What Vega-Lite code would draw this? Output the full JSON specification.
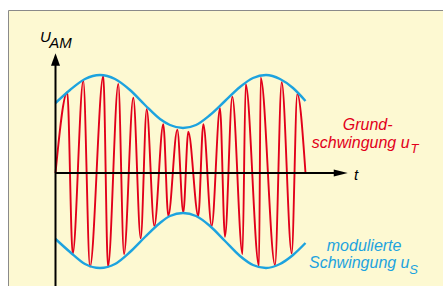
{
  "$schema": "https://vega.github.io/schema/vega-lite/v6.json",
  "width": 435,
  "height": 276,
  "autosize": {"type": "none"},
  "padding": {"left": 8, "top": 10, "right": 0, "bottom": 0},
  "background": "white",
  "config": {"view": {"fill": "#FDF9D2", "stroke": "#8a8a8a", "strokeWidth": 1}},
  "datasets": {
    "carrier": [
      {"t": 0, "U": 0},
      {"t": 0.472, "U": 0.807},
      {"t": 0.688, "U": -0.81},
      {"t": 1.112, "U": 0.923},
      {"t": 1.38, "U": -0.937},
      {"t": 1.912, "U": 0.973},
      {"t": 2.1, "U": -0.937},
      {"t": 2.512, "U": 0.89},
      {"t": 2.74, "U": -0.81},
      {"t": 3.112, "U": 0.753},
      {"t": 3.408, "U": -0.653},
      {"t": 3.648, "U": 0.637},
      {"t": 3.952, "U": -0.53},
      {"t": 4.312, "U": 0.487},
      {"t": 4.512, "U": -0.43},
      {"t": 4.872, "U": 0.433},
      {"t": 5.112, "U": -0.397},
      {"t": 5.312, "U": 0.413},
      {"t": 5.712, "U": -0.43},
      {"t": 5.912, "U": 0.487},
      {"t": 6.248, "U": -0.53},
      {"t": 6.58, "U": 0.647},
      {"t": 6.78, "U": -0.637},
      {"t": 7.072, "U": 0.763},
      {"t": 7.48, "U": -0.81},
      {"t": 7.608, "U": 0.887},
      {"t": 8.14, "U": -0.93},
      {"t": 8.208, "U": 0.953},
      {"t": 8.78, "U": -0.92},
      {"t": 9.048, "U": 0.907},
      {"t": 9.448, "U": -0.803},
      {"t": 9.672, "U": 0.79},
      {"t": 10.0, "U": 0}
    ],
    "envelope": [
      {"side": "upper", "t": 0, "U": 0.70},
      {"side": "upper", "t": 0.58, "U": 0.83},
      {"side": "upper", "t": 1.18, "U": 0.94},
      {"side": "upper", "t": 1.78, "U": 0.98},
      {"side": "upper", "t": 2.38, "U": 0.94},
      {"side": "upper", "t": 2.98, "U": 0.83},
      {"side": "upper", "t": 3.58, "U": 0.68},
      {"side": "upper", "t": 4.18, "U": 0.54},
      {"side": "upper", "t": 4.58, "U": 0.48},
      {"side": "upper", "t": 5.1, "U": 0.45},
      {"side": "upper", "t": 5.62, "U": 0.48},
      {"side": "upper", "t": 6.18, "U": 0.58},
      {"side": "upper", "t": 6.78, "U": 0.72},
      {"side": "upper", "t": 7.38, "U": 0.86},
      {"side": "upper", "t": 7.9, "U": 0.95},
      {"side": "upper", "t": 8.42, "U": 0.98},
      {"side": "upper", "t": 8.98, "U": 0.94},
      {"side": "upper", "t": 9.5, "U": 0.85},
      {"side": "upper", "t": 10.0, "U": 0.72},
      {"side": "lower", "t": 0, "U": -0.66},
      {"side": "lower", "t": 0.58, "U": -0.79},
      {"side": "lower", "t": 1.18, "U": -0.91},
      {"side": "lower", "t": 1.78, "U": -0.95},
      {"side": "lower", "t": 2.38, "U": -0.91},
      {"side": "lower", "t": 2.98, "U": -0.79},
      {"side": "lower", "t": 3.58, "U": -0.64},
      {"side": "lower", "t": 4.18, "U": -0.50},
      {"side": "lower", "t": 4.58, "U": -0.43},
      {"side": "lower", "t": 5.1, "U": -0.40},
      {"side": "lower", "t": 5.62, "U": -0.43},
      {"side": "lower", "t": 6.18, "U": -0.53},
      {"side": "lower", "t": 6.78, "U": -0.68},
      {"side": "lower", "t": 7.38, "U": -0.83},
      {"side": "lower", "t": 7.9, "U": -0.92},
      {"side": "lower", "t": 8.42, "U": -0.95},
      {"side": "lower", "t": 8.98, "U": -0.91},
      {"side": "lower", "t": 9.5, "U": -0.82},
      {"side": "lower", "t": 10.0, "U": -0.70}
    ]
  },
  "encoding": {
    "x": {"field": "t", "type": "quantitative", "scale": {"domain": [-1.9, 15.5], "nice": false, "zero": false}, "axis": null},
    "y": {"field": "U", "type": "quantitative", "scale": {"domain": [-1.13, 1.63], "nice": false, "zero": false}, "axis": null}
  },
  "layer": [
    {
      "data": {"name": "carrier"},
      "mark": {"type": "line", "interpolate": "monotone", "color": "#E2001A", "strokeWidth": 1.9},
      "encoding": {}
    },
    {
      "data": {"name": "envelope"},
      "mark": {"type": "line", "interpolate": "monotone", "color": "#1DA3DF", "strokeWidth": 2.4},
      "encoding": {"detail": {"field": "side"}}
    },
    {
      "data": {"values": [{"t": 0, "U": -1.2, "U2": 1.09}]},
      "mark": {"type": "rule", "color": "black", "strokeWidth": 2},
      "encoding": {"y2": {"field": "U2"}}
    },
    {
      "data": {"values": [{"t": 0, "t2": 11.18, "U": 0}]},
      "mark": {"type": "rule", "color": "black", "strokeWidth": 2},
      "encoding": {"x2": {"field": "t2"}}
    },
    {
      "data": {"values": [{"t": 0, "U": 1.197}]},
      "mark": {"type": "point", "filled": true, "color": "black", "opacity": 1, "size": 196, "shape": "M0,0 L0.643,1.77 L-0.643,1.77 Z"},
      "encoding": {}
    },
    {
      "data": {"values": [{"t": 11.69, "U": 0}]},
      "mark": {"type": "point", "filled": true, "color": "black", "opacity": 1, "size": 196, "shape": "M0,0 L-2,-0.5 L-2,0.5 Z"},
      "encoding": {}
    },
    {
      "data": {"values": [{"t": -0.62, "U": 1.313, "label": "U"}, {"t": -0.248, "U": 1.247, "label": "AM"}, {"t": 11.94, "U": -0.07, "label": "t"}]},
      "mark": {"type": "text", "align": "left", "baseline": "alphabetic", "font": "Liberation Sans", "fontStyle": "italic", "fontSize": 15, "color": "black"},
      "encoding": {"text": {"field": "label"}}
    },
    {
      "data": {"values": [{"t": 11.49, "U": 0.43, "label": "Grund-"}, {"t": 10.25, "U": 0.247, "label": "schwingung u"}]},
      "mark": {"type": "text", "align": "left", "baseline": "alphabetic", "font": "Liberation Sans", "fontStyle": "italic", "fontSize": 16, "color": "#E2001A"},
      "encoding": {"text": {"field": "label"}}
    },
    {
      "data": {"values": [{"t": 14.2, "U": 0.197, "label": "T"}]},
      "mark": {"type": "text", "align": "left", "baseline": "alphabetic", "font": "Liberation Sans", "fontStyle": "italic", "fontSize": 13, "color": "#E2001A"},
      "encoding": {"text": {"field": "label"}}
    },
    {
      "data": {"values": [{"t": 10.85, "U": -0.775, "label": "modulierte"}, {"t": 10.14, "U": -0.95, "label": "Schwingung u"}]},
      "mark": {"type": "text", "align": "left", "baseline": "alphabetic", "font": "Liberation Sans", "fontStyle": "italic", "fontSize": 16, "color": "#1DA3DF"},
      "encoding": {"text": {"field": "label"}}
    },
    {
      "data": {"values": [{"t": 14.15, "U": -1.01, "label": "S"}]},
      "mark": {"type": "text", "align": "left", "baseline": "alphabetic", "font": "Liberation Sans", "fontStyle": "italic", "fontSize": 13, "color": "#1DA3DF"},
      "encoding": {"text": {"field": "label"}}
    }
  ]
}
